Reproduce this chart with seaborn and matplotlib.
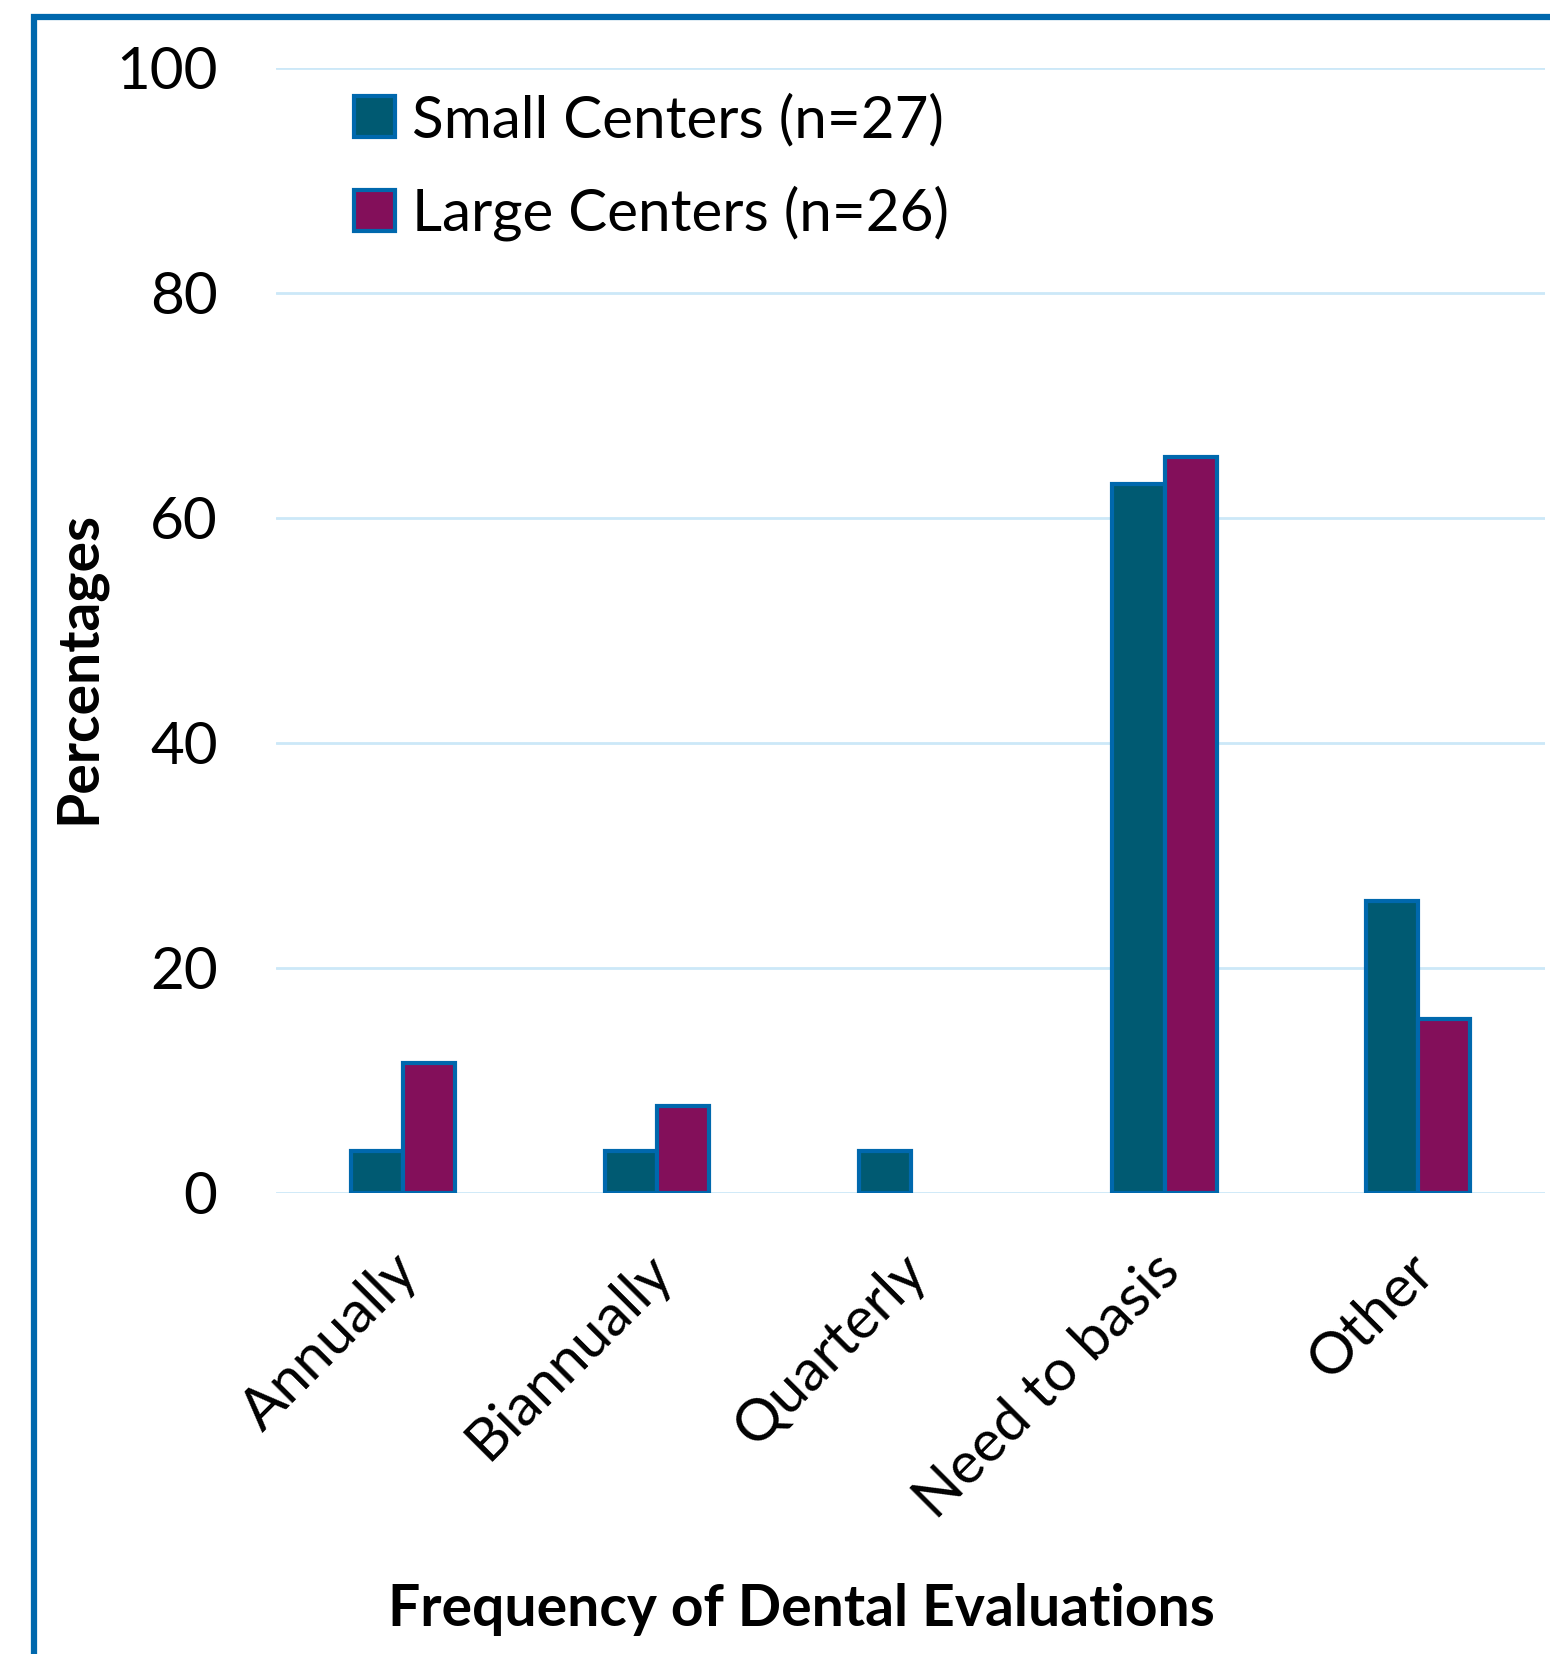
import pandas as pd
import seaborn as sns
import matplotlib.pyplot as plt
from matplotlib.patches import Rectangle
from matplotlib.transforms import offset_copy

# Chart data
categories = ['Annually', 'Biannually', 'Quarterly', 'Need to basis', 'Other']
small_centers = [3.7, 3.7, 3.7, 63.0, 25.9]
large_centers = [11.5, 7.7, 0.0, 65.4, 15.4]
series_names = ['Small Centers (n=27)', 'Large Centers (n=26)']
y_ticks = [0, 20, 40, 60, 80, 100]

df = pd.DataFrame({
    'category': categories * 2,
    'group': [series_names[0]] * 5 + [series_names[1]] * 5,
    'value': small_centers + large_centers,
})

sns.set_theme(style='white')
plt.rcParams['font.family'] = ['Lato', 'DejaVu Sans']
plt.rcParams['text.color'] = 'black'
plt.rcParams['axes.labelcolor'] = 'black'
plt.rcParams['xtick.color'] = 'black'
plt.rcParams['ytick.color'] = 'black'

fig = plt.figure(figsize=(15.5, 16.54), dpi=100)
ax = fig.add_axes([0.178, 0.279, 0.819, 0.680])

palette = {series_names[0]: '#005A72', series_names[1]: '#830F5A'}
sns.barplot(data=df, x='category', y='value', hue='group', order=categories,
            hue_order=series_names, palette=palette, width=0.41,
            edgecolor='#0068AD', linewidth=3, saturation=1, ax=ax)

# no outline for empty bars
for p in ax.patches:
    if p.get_height() == 0:
        p.set_linewidth(0)

ax.set_xlim(-0.5, 4.5)
ax.set_ylim(0, 100)
ax.set_yticks(y_ticks)
ax.yaxis.grid(True, color='#CCE8F8', linewidth=2)
ax.set_axisbelow(True)
for s in ax.spines.values():
    s.set_visible(False)
ax.tick_params(axis='y', length=0, pad=42, labelsize=42)
ax.tick_params(axis='x', length=0, pad=30, labelsize=42)
for lbl in ax.get_xticklabels():
    lbl.set_rotation(45)
    lbl.set_ha('right')
    lbl.set_rotation_mode('anchor')
    lbl.set_transform(offset_copy(lbl.get_transform(), fig=fig, x=-12, y=-10, units='dots'))

ax.set_ylabel('Percentages', fontsize=41, fontweight='bold')
ax.yaxis.set_label_coords(-0.134, 0.467)
ax.set_xlabel('Frequency of Dental Evaluations', fontsize=41, fontweight='bold')
ax.xaxis.set_label_coords((802 - 276) / 1270, -0.347)

leg = ax.legend(loc='upper left', bbox_to_anchor=(0.02, 1.024), frameon=False,
                fontsize=42, handlelength=0.7, handleheight=0.7,
                handletextpad=0.3, labelspacing=0.66)
for h in leg.legend_handles:
    h.set_edgecolor('#0068AD')
    h.set_linewidth(3)
for t in leg.get_texts():
    t.set_color('black')

# blue frame around the figure, clipped at right and bottom
fig.patches.append(Rectangle((34 / 1550, -0.05), 1.2, 1 - 17 / 1654 + 0.05,
                             transform=fig.transFigure, fill=False,
                             edgecolor='#0068AD', linewidth=4.5, zorder=10))

plt.savefig('out.png', dpi=100)
plt.close()
